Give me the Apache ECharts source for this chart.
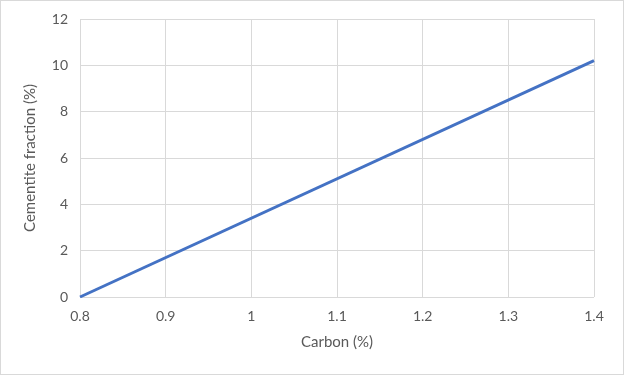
<!DOCTYPE html>
<html><head><meta charset="utf-8">
<script src="https://cdn.jsdelivr.net/npm/echarts@6/dist/echarts.min.js"></script>
<style>html,body{margin:0;padding:0;background:#fff}#c{width:624px;height:375px;box-sizing:border-box;border:1px solid #d9d9d9;}</style>
</head><body><div id="c"></div>
<script>
const carbon = [0.8, 1.4];
const cementite = [0, 10.2];
const xTitle = 'Carbon (%)';
const yTitle = 'Cementite fraction (%)';
const font = 'Lato, "Liberation Sans", sans-serif';
const chart = echarts.init(document.getElementById('c'));
chart.setOption({
  animation: false,
  grid: {left: 79, right: 29, top: 18, bottom: 77},
  xAxis: {type: 'value', min: 0.8, max: 1.4, interval: 0.1,
    name: xTitle, nameLocation: 'middle', nameGap: 38,
    nameTextStyle: {color: '#595959', fontSize: 15, fontFamily: font},
    axisLine: {show: false}, axisTick: {show: false},
    axisLabel: {color: '#595959', fontSize: 14, fontFamily: font, margin: 12,
      formatter: v => String(Math.round(v*10)/10)},
    splitLine: {show: true, lineStyle: {color: '#d9d9d9'}}},
  yAxis: {type: 'value', min: 0, max: 12, interval: 2,
    name: yTitle, nameLocation: 'middle', nameGap: 42,
    nameTextStyle: {color: '#595959', fontSize: 15, fontFamily: font},
    axisLine: {show: false}, axisTick: {show: false},
    axisLabel: {color: '#595959', fontSize: 14, fontFamily: font, margin: 12},
    splitLine: {show: true, lineStyle: {color: '#d9d9d9'}}},
  series: [{type: 'line', data: carbon.map((c, i) => [c, cementite[i]]),
    showSymbol: false, lineStyle: {color: '#4472c4', width: 3}}]
});
</script></body></html>
